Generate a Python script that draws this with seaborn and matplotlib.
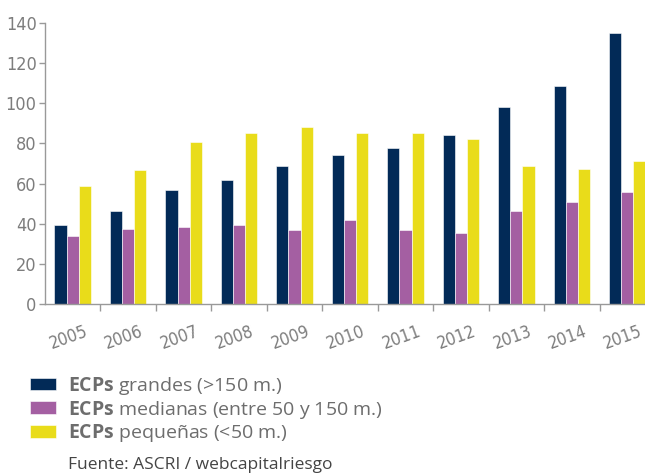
import pandas as pd
import matplotlib.pyplot as plt
import matplotlib.transforms as mtransforms
import seaborn as sns

# Data
years = ['2005', '2006', '2007', '2008', '2009', '2010', '2011', '2012', '2013', '2014', '2015']
grandes = [39.5, 46.3, 56.6, 61.6, 68.9, 74.0, 77.7, 84.4, 98.2, 108.6, 134.8]
medianas = [33.9, 37.4, 38.2, 39.5, 36.9, 41.8, 36.9, 35.2, 46.3, 50.6, 55.8]
pequenas = [58.6, 66.8, 80.7, 85.0, 88.0, 85.0, 85.0, 82.2, 68.9, 67.4, 71.2]
series_labels = [r'$\bf{ECPs}$ grandes (>150 m.)',
                 r'$\bf{ECPs}$ medianas (entre 50 y 150 m.)',
                 r'$\bf{ECPs}$ pequeñas (<50 m.)']
colors = ['#022a57', '#a45fa2', '#e9dc1a']

df = pd.DataFrame({
    'year': years * 3,
    'value': grandes + medianas + pequenas,
    'serie': [series_labels[0]] * 11 + [series_labels[1]] * 11 + [series_labels[2]] * 11,
})

sns.set_style('white')
plt.rcParams['font.family'] = ['Open Sans', 'DejaVu Sans']
plt.rcParams['mathtext.fontset'] = 'custom'
plt.rcParams['mathtext.rm'] = 'Open Sans'
plt.rcParams['mathtext.bf'] = 'Open Sans:bold'

gray = '#7d7d7d'

fig = plt.figure(figsize=(6.45, 4.74), dpi=100)
ax = fig.add_axes([45 / 645, 170 / 474, 610 / 645, 281 / 474])

sns.barplot(data=df, x='year', y='value', hue='serie', order=years,
            hue_order=series_labels, palette=colors, saturation=1, width=0.66, gap=0,
            edgecolor='white', linewidth=0.4, ax=ax)

ax.set_xlim(-0.5, 10.5)
ax.set_ylim(0, 140)
ax.set_yticks(range(0, 141, 20))
ax.set_xlabel('')
ax.set_ylabel('')

for side in ['top', 'right']:
    ax.spines[side].set_visible(False)
for side in ['left', 'bottom']:
    ax.spines[side].set_color('#999999')
    ax.spines[side].set_linewidth(1.0)

ax.tick_params(axis='y', left=True, length=4, width=1, color='#999999', pad=2,
               labelsize=13, labelcolor=gray)
ax.tick_params(axis='x', bottom=False, length=0, pad=13, labelsize=12.5, labelcolor=gray)
ax.set_xticks([i + 0.5 for i in range(11)], minor=True)
ax.tick_params(axis='x', which='minor', bottom=True, length=5, width=1, color='#999999')

# nudge the year labels a few pixels left so the last one stays inside
shift = mtransforms.ScaledTranslation(-4 / 100, 0, fig.dpi_scale_trans)
for lab in ax.get_xticklabels():
    lab.set_rotation(20)
    lab.set_ha('center')
    lab.set_family('DejaVu Sans')
    lab.set_fontstretch('condensed')
    lab.set_transform(lab.get_transform() + shift)
for lab in ax.get_yticklabels():
    lab.set_family('DejaVu Sans')
    lab.set_fontstretch('condensed')

handles, labels = ax.get_legend_handles_labels()
ax.legend(handles, labels, loc='upper left', bbox_to_anchor=(30 / 645, 1 - 375 / 474),
          bbox_transform=fig.transFigure, frameon=False, fontsize=14,
          labelcolor='#6d6d6d', handlelength=1.35, handleheight=0.62,
          handletextpad=0.6, labelspacing=0.08, borderaxespad=0, borderpad=0)

fig.text(68 / 645, 9 / 474, 'Fuente: ASCRI / webcapitalriesgo', fontsize=12.5,
         color='#444444', va='center')

fig.savefig('out.png', dpi=100)
